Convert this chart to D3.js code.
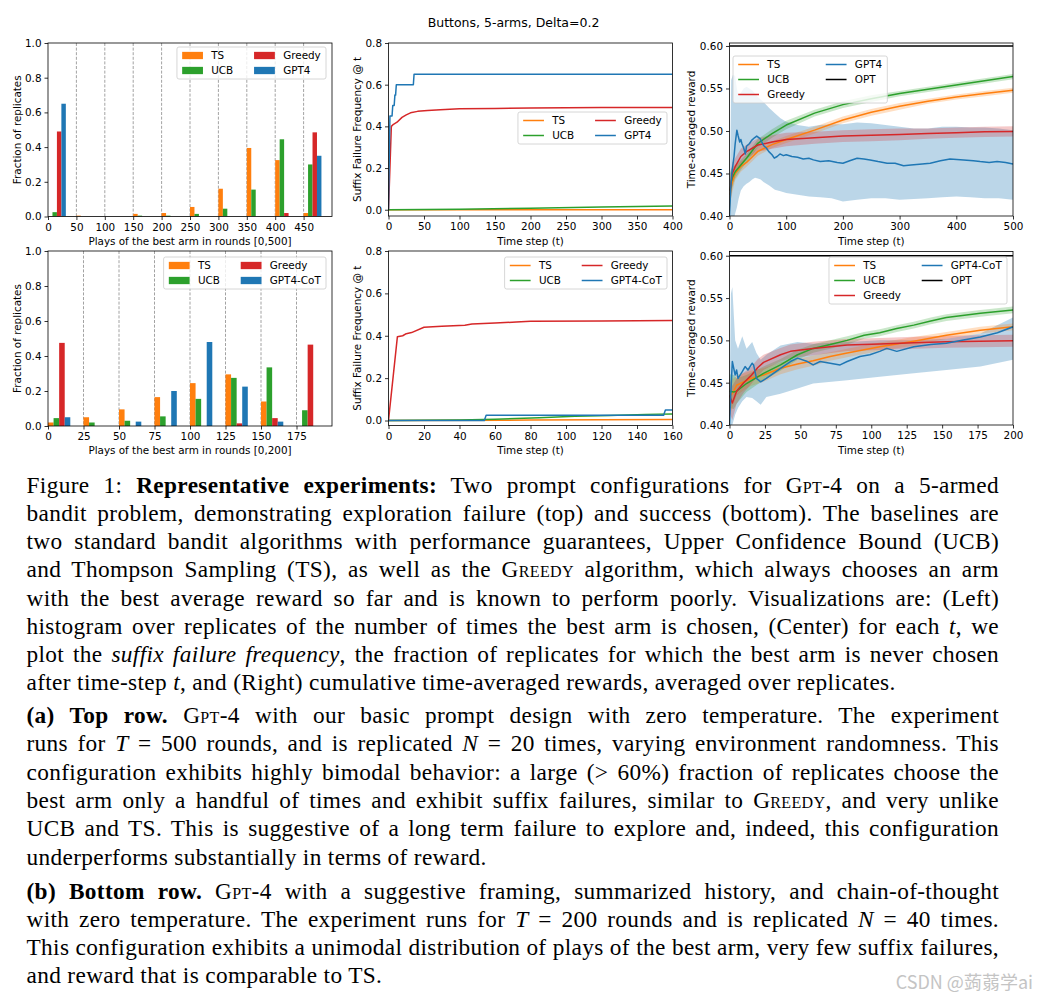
<!DOCTYPE html>
<html>
<head>
<meta charset="utf-8">
<script src="https://cdn.jsdelivr.net/npm/d3@7"></script>
<style>
  body { margin: 0; background: #fff; }
  svg text { font-family: "DejaVu Sans"; }
</style>
</head>
<body>
<svg id="fig" width="1037" height="1002"></svg>
<script>
// ---- data ----
const titleText = 'Buttons, 5-arms, Delta=0.2';

// left column: histograms of plays of the best arm
const histTopBins = [0, 50, 100, 150, 200, 250, 300, 350, 400, 450];
const histTopTS = [0, 0.005, 0, 0.015, 0.02, 0.055, 0.16, 0.395, 0.325, 0.02];
const histTopUCB = [0.025, 0, 0, 0.005, 0.005, 0.015, 0.045, 0.155, 0.445, 0.3];
const histTopGreedy = [0.49, 0, 0, 0, 0, 0, 0, 0, 0.02, 0.485];
const histTopGPT4 = [0.65, 0, 0, 0, 0, 0, 0, 0, 0, 0.35];

const histBotBins = [0, 25, 50, 75, 100, 125, 150, 175];
const histBotTS = [0.02, 0.05, 0.095, 0.165, 0.245, 0.295, 0.14, 0];
const histBotUCB = [0.045, 0.02, 0.03, 0.055, 0.155, 0.275, 0.335, 0.09];
const histBotGreedy = [0.475, 0, 0, 0, 0, 0.015, 0.045, 0.465];
const histBotCoT = [0.05, 0, 0.025, 0.2, 0.48, 0.225, 0.025, 0];

// middle column: suffix failure frequency
const sfTopTS_t = [0, 400], sfTopTS = [0, 0];
const sfTopUCB_t = [0, 100, 200, 300, 400], sfTopUCB = [0, 0.002, 0.007, 0.013, 0.018];
const sfTopGreedy_t = [0, 4, 7, 12, 19, 25, 31, 41, 55, 73, 100, 150, 200, 300, 400];
const sfTopGreedy = [0, 0.4, 0.41, 0.42, 0.443, 0.455, 0.465, 0.472, 0.476, 0.48, 0.484, 0.486, 0.488, 0.49, 0.491];
const sfTopGPT4_t = [0, 2, 5, 6, 8, 9, 10, 11, 35, 36, 400];
const sfTopGPT4 = [0, 0.45, 0.45, 0.5, 0.5, 0.55, 0.55, 0.6, 0.6, 0.65, 0.65];

const sfBotTS_t = [0, 80, 160], sfBotTS = [0, 0.002, 0.005];
const sfBotUCB_t = [0, 40, 60, 85, 105, 125, 145, 160];
const sfBotUCB = [0, 0.002, 0.006, 0.013, 0.02, 0.024, 0.029, 0.031];
const sfBotGreedy_t = [0, 5, 8, 10, 13, 20, 30, 43, 47, 60, 72, 80, 120, 160];
const sfBotGreedy = [0, 0.395, 0.4, 0.41, 0.415, 0.44, 0.445, 0.45, 0.455, 0.46, 0.465, 0.468, 0.47, 0.472];
const sfBotCoT_t = [0, 54, 55, 155, 156, 160];
const sfBotCoT = [0, 0, 0.025, 0.025, 0.05, 0.05];

// right column: time-averaged reward
const rwTop_t = [1, 3, 5, 10, 20, 30, 50, 75, 100, 150, 200, 250, 300, 350, 400, 450, 500];
const rwTopTS = [0.425, 0.435, 0.44, 0.45, 0.458, 0.463, 0.476, 0.484, 0.49, 0.501, 0.513, 0.522, 0.529, 0.535, 0.54, 0.544, 0.548];
const rwTopTSsd = [0.02, 0.015, 0.012, 0.008, 0.006, 0.005, 0.005, 0.004, 0.004, 0.004, 0.004, 0.004, 0.004, 0.003, 0.003, 0.003, 0.003];
const rwTopUCB = [0.43, 0.44, 0.445, 0.452, 0.46, 0.468, 0.4855, 0.497, 0.507, 0.521, 0.531, 0.538, 0.544, 0.549, 0.554, 0.559, 0.564];
const rwTopUCBsd = [0.02, 0.015, 0.012, 0.008, 0.006, 0.005, 0.005, 0.005, 0.005, 0.004, 0.004, 0.004, 0.003, 0.003, 0.003, 0.003, 0.003];
const rwTopGreedy = [0.43, 0.44, 0.45, 0.458, 0.47, 0.4757, 0.4835, 0.487, 0.49, 0.492, 0.494, 0.495, 0.496, 0.497, 0.498, 0.499, 0.4995];
const rwTopGreedySd = [0.02, 0.016, 0.013, 0.01, 0.009, 0.008, 0.008, 0.008, 0.008, 0.007, 0.007, 0.007, 0.007, 0.006, 0.006, 0.006, 0.006];
const rwTopGPT4_t = [0, 2, 4, 6, 8, 10, 13, 15, 18, 20, 22, 25, 28, 30, 35, 39, 44, 48, 54, 60, 65, 69, 75, 79, 84, 89, 95, 100, 110, 120, 130, 140, 148, 160, 175, 190, 200, 212, 225, 237, 248, 262, 278, 292, 307, 320, 335, 354, 372, 389, 413, 430, 442, 458, 472, 487, 500];
const rwTopGPT4 = [0.40, 0.43, 0.45, 0.46, 0.47, 0.485, 0.501, 0.495, 0.487, 0.49, 0.485, 0.48, 0.473, 0.482, 0.485, 0.489, 0.492, 0.494, 0.491, 0.483, 0.48, 0.476, 0.472, 0.468, 0.47, 0.473, 0.471, 0.472, 0.47, 0.469, 0.467, 0.468, 0.466, 0.464, 0.465, 0.463, 0.462, 0.465, 0.468, 0.467, 0.466, 0.464, 0.462, 0.462, 0.459, 0.46, 0.461, 0.462, 0.465, 0.467, 0.466, 0.465, 0.464, 0.463, 0.464, 0.463, 0.461];
const rwTopBand_t = [1, 3, 6, 10, 13, 16, 20, 25, 30, 35, 40, 45, 50, 55, 60, 70, 80, 90, 100, 120, 140, 160, 180, 200, 225, 250, 275, 300, 325, 350, 375, 400, 425, 450, 475, 500];
const rwTopBandHi = [0.45, 0.56, 0.566, 0.565, 0.55, 0.54, 0.545, 0.55, 0.552, 0.55, 0.548, 0.544, 0.54, 0.537, 0.534, 0.527, 0.521, 0.515, 0.511, 0.507, 0.505, 0.507, 0.508, 0.508, 0.51, 0.509, 0.507, 0.505, 0.503, 0.503, 0.505, 0.505, 0.504, 0.504, 0.503, 0.501];
const rwTopBandLo = [0.35, 0.38, 0.39, 0.403, 0.41, 0.42, 0.43, 0.435, 0.438, 0.44, 0.443, 0.445, 0.444, 0.443, 0.44, 0.436, 0.431, 0.429, 0.427, 0.425, 0.423, 0.422, 0.421, 0.417, 0.419, 0.421, 0.421, 0.419, 0.42, 0.421, 0.422, 0.423, 0.422, 0.421, 0.421, 0.419];

const rwBotTS_t = [1, 3, 5, 10, 15, 24, 36, 48, 59, 71, 83, 106, 130, 153, 177, 200];
const rwBotTS = [0.435, 0.44, 0.447, 0.451, 0.455, 0.459, 0.467, 0.472, 0.476, 0.481, 0.485, 0.4925, 0.499, 0.506, 0.512, 0.516];
const rwBotTSsd = [0.02, 0.015, 0.012, 0.01, 0.009, 0.008, 0.007, 0.006, 0.006, 0.005, 0.005, 0.005, 0.005, 0.004, 0.004, 0.004];
const rwBotUCB_t = [0, 3, 5, 12, 24, 36, 48, 59, 71, 83, 95, 106, 118, 130, 142, 153, 177, 200];
const rwBotUCB = [0.44, 0.439, 0.44, 0.449, 0.461, 0.471, 0.483, 0.4905, 0.495, 0.5, 0.506, 0.509, 0.514, 0.518, 0.523, 0.527, 0.532, 0.536];
const rwBotUCBsd = [0.02, 0.02, 0.015, 0.01, 0.008, 0.007, 0.006, 0.005, 0.005, 0.005, 0.004, 0.004, 0.004, 0.004, 0.004, 0.004, 0.004, 0.004];
const rwBotGreedy_t = [0, 2, 5, 10, 15, 20, 24, 36, 43, 59, 83, 106, 130, 153, 200];
const rwBotGreedy = [0.435, 0.426, 0.44, 0.45, 0.458, 0.468, 0.474, 0.483, 0.487, 0.4905, 0.4945, 0.4957, 0.4972, 0.4984, 0.4996];
const rwBotGreedySd = [0.02, 0.02, 0.015, 0.012, 0.01, 0.01, 0.009, 0.008, 0.008, 0.008, 0.007, 0.007, 0.007, 0.007, 0.007];
const rwBotCoT_t = [0, 1, 2, 4, 5, 6, 9, 11, 13, 16, 17, 19, 22, 26, 31, 36, 43, 48, 55, 59, 64, 71, 78, 83, 92, 99, 106, 111, 118, 130, 142, 153, 165, 177, 189, 200];
const rwBotCoT = [0.40, 0.44, 0.475, 0.459, 0.465, 0.455, 0.463, 0.469, 0.465, 0.473, 0.471, 0.455, 0.451, 0.455, 0.461, 0.467, 0.475, 0.479, 0.475, 0.471, 0.475, 0.473, 0.471, 0.475, 0.481, 0.483, 0.487, 0.4905, 0.487, 0.4925, 0.495, 0.4965, 0.5004, 0.504, 0.509, 0.516];
const rwBotBand_t = [0, 1, 2, 4, 6, 9, 12, 16, 19, 22, 26, 36, 48, 59, 83, 106, 130, 153, 177, 200];
const rwBotBandHi = [0.42, 0.555, 0.563, 0.5, 0.49, 0.505, 0.49, 0.498, 0.485, 0.477, 0.483, 0.494, 0.498, 0.496, 0.498, 0.5, 0.5, 0.502, 0.508, 0.527];
const rwBotBandLo = [0.38, 0.39, 0.40, 0.412, 0.42, 0.428, 0.433, 0.432, 0.428, 0.424, 0.433, 0.437, 0.443, 0.449, 0.453, 0.457, 0.461, 0.465, 0.469, 0.477];
const optValue = 0.6;

// ticks
const histYTicks = [0, 0.2, 0.4, 0.6, 0.8, 1.0];
const histTopXTicks = [0, 50, 100, 150, 200, 250, 300, 350, 400, 450];
const histBotXTicks = [0, 25, 50, 75, 100, 125, 150, 175];
const sfYTicks = [0, 0.2, 0.4, 0.6, 0.8];
const sfTopXTicks = [0, 50, 100, 150, 200, 250, 300, 350, 400];
const sfBotXTicks = [0, 20, 40, 60, 80, 100, 120, 140, 160];
const rwYTicks = [0.40, 0.45, 0.50, 0.55, 0.60];
const rwTopXTicks = [0, 100, 200, 300, 400, 500];
const rwBotXTicks = [0, 25, 50, 75, 100, 125, 150, 175, 200];

const C = { TS: '#ff7f0e', UCB: '#2ca02c', Greedy: '#d62728', GPT: '#1f77b4', OPT: '#000000' };
const FONT = 'DejaVu Sans', FS = 10.4;

const svg = d3.select('#fig');
let clipN = 0;

function makePanel(b, xd, yd) {
  const x = d3.scaleLinear().domain(xd).range([b.x0, b.x1]);
  const y = d3.scaleLinear().domain(yd).range([b.y1, b.y0]);
  const id = 'clip' + (clipN++);
  svg.append('clipPath').attr('id', id).append('rect')
    .attr('x', b.x0).attr('y', b.y0).attr('width', b.x1 - b.x0).attr('height', b.y1 - b.y0);
  const g = svg.append('g');
  const plot = g.append('g').attr('clip-path', `url(#${id})`);
  return { g, plot, x, y, b };
}

function finish(p, xt, yt, xf, yf, xlab, ylab, ylabX, xlabY) {
  const ax = p.g.append('g').attr('transform', `translate(0,${p.b.y1})`)
    .call(d3.axisBottom(p.x).tickValues(xt).tickFormat(xf).tickSize(3.5).tickPadding(3.5));
  const ay = p.g.append('g').attr('transform', `translate(${p.b.x0},0)`)
    .call(d3.axisLeft(p.y).tickValues(yt).tickFormat(yf).tickSize(3.5).tickPadding(3));
  [ax, ay].forEach(a => {
    a.select('.domain').remove();
    a.attr('font-family', FONT).attr('font-size', FS);
    a.selectAll('line').attr('stroke-width', 0.8);
    a.selectAll('text').attr('fill', '#000');
  });
  p.g.append('rect').attr('x', p.b.x0).attr('y', p.b.y0)
    .attr('width', p.b.x1 - p.b.x0).attr('height', p.b.y1 - p.b.y0)
    .attr('fill', 'none').attr('stroke', '#000').attr('stroke-width', 0.8);
  p.g.append('text').attr('x', (p.b.x0 + p.b.x1) / 2).attr('y', xlabY)
    .attr('text-anchor', 'middle').attr('font-size', FS).text(xlab);
  const yc = (p.b.y0 + p.b.y1) / 2;
  p.g.append('text').attr('transform', `translate(${ylabX},${yc}) rotate(-90)`)
    .attr('text-anchor', 'middle').attr('dy', '0.35em').attr('font-size', FS).text(ylab);
}

function legend(p, opt) {
  const pad = 5.2, hl = 20.8, tp = 8.3, cs = 20.8, top = 8.5, rs = 15;
  const lg = p.g.append('g');
  const box = lg.append('rect');
  const inner = lg.append('g');
  let cx = pad, rows = 0;
  opt.cols.forEach(col => {
    let w = 0;
    rows = Math.max(rows, col.length);
    col.forEach((it, ri) => {
      const cy = top + ri * rs;
      if (it[2] === 'patch') {
        inner.append('rect').attr('x', cx).attr('y', cy - 3.65).attr('width', hl).attr('height', 7.3).attr('fill', it[1]);
      } else {
        inner.append('line').attr('x1', cx).attr('x2', cx + hl).attr('y1', cy).attr('y2', cy)
          .attr('stroke', it[1]).attr('stroke-width', 1.5);
      }
      const t = inner.append('text').attr('x', cx + hl + tp).attr('y', cy).attr('dy', '0.35em')
        .attr('font-size', FS).text(it[0]);
      w = Math.max(w, t.node().getComputedTextLength());
    });
    cx += hl + tp + w + cs;
  });
  const bw = cx - cs + pad, bh = 2 * top + (rows - 1) * rs;
  box.attr('width', bw).attr('height', bh).attr('rx', 2)
    .attr('fill', '#fff').attr('fill-opacity', 0.8).attr('stroke', '#cccccc').attr('stroke-width', 0.8);
  const lx = opt.align === 'right' ? opt.x - bw : opt.x;
  lg.attr('transform', `translate(${lx},${opt.y})`);
}

function hist(p, bins, series, binW) {
  const bw = binW * 0.157;
  // dashed grid at the x ticks
  bins.slice(1).forEach(v => {
    p.plot.append('line').attr('x1', p.x(v)).attr('x2', p.x(v)).attr('y1', p.b.y0).attr('y2', p.b.y1)
      .attr('stroke', '#8c8c8c').attr('stroke-width', 0.8).attr('stroke-dasharray', '3,1.6');
  });
  series.forEach((s, i) => {
    p.plot.selectAll(null).data(d3.zip(bins, s.values)).enter().append('rect')
      .attr('x', d => p.x(d[0] + i * bw))
      .attr('width', p.x(bw) - p.x(0))
      .attr('y', d => p.y(d[1]))
      .attr('height', d => p.y(0) - p.y(d[1]))
      .attr('fill', s.color);
  });
}

function drawLine(p, ts, vs, color, w) {
  const line = d3.line().x(d => p.x(d[0])).y(d => p.y(d[1]));
  p.plot.append('path').datum(d3.zip(ts, vs)).attr('d', line)
    .attr('fill', 'none').attr('stroke', color).attr('stroke-width', w || 1.5).attr('stroke-linejoin', 'round');
}

function drawBand(p, ts, lo, hi, color, op) {
  const area = d3.area().x(d => p.x(d[0])).y0(d => p.y(d[1])).y1(d => p.y(d[2]));
  p.plot.append('path').datum(d3.zip(ts, lo, hi)).attr('d', area)
    .attr('fill', color).attr('fill-opacity', op);
}

function sdBand(p, ts, vs, sd, color) {
  drawBand(p, ts, vs.map((v, i) => v - sd[i]), vs.map((v, i) => v + sd[i]), color, 0.25);
}

const f1 = d3.format('.1f'), f2 = d3.format('.2f'), fi = d3.format('d');

// title
svg.append('text').attr('x', 513.5).attr('y', 26.5).attr('text-anchor', 'middle')
  .attr('font-size', 12.5).text(titleText);

// ---- top left ----
let p = makePanel({ x0: 48, x1: 332, y0: 43, y1: 216.5 }, [0, 500], [0, 1]);
hist(p, histTopBins, [
  { values: histTopTS, color: C.TS }, { values: histTopUCB, color: C.UCB },
  { values: histTopGreedy, color: C.Greedy }, { values: histTopGPT4, color: C.GPT }], 50);
finish(p, histTopXTicks, histYTicks, fi, f1, 'Plays of the best arm in rounds [0,500]', 'Fraction of replicates', 17, 244.5);
legend(p, { x: 326, y: 47, align: 'right', cols: [
  [['TS', C.TS, 'patch'], ['UCB', C.UCB, 'patch']], [['Greedy', C.Greedy, 'patch'], ['GPT4', C.GPT, 'patch']]] });

// ---- bottom left ----
p = makePanel({ x0: 48, x1: 332, y0: 251, y1: 426 }, [0, 200], [0, 1]);
hist(p, histBotBins, [
  { values: histBotTS, color: C.TS }, { values: histBotUCB, color: C.UCB },
  { values: histBotGreedy, color: C.Greedy }, { values: histBotCoT, color: C.GPT }], 25);
finish(p, histBotXTicks, histYTicks, fi, f1, 'Plays of the best arm in rounds [0,200]', 'Fraction of replicates', 17, 453.5);
legend(p, { x: 326, y: 257, align: 'right', cols: [
  [['TS', C.TS, 'patch'], ['UCB', C.UCB, 'patch']], [['Greedy', C.Greedy, 'patch'], ['GPT4-CoT', C.GPT, 'patch']]] });

// ---- top middle ----
p = makePanel({ x0: 388.5, x1: 672.5, y0: 43, y1: 216 }, [0, 400], [-0.03, 0.8]);
drawLine(p, sfTopTS_t, sfTopTS, C.TS);
drawLine(p, sfTopUCB_t, sfTopUCB, C.UCB);
drawLine(p, sfTopGreedy_t, sfTopGreedy, C.Greedy);
drawLine(p, sfTopGPT4_t, sfTopGPT4, C.GPT);
finish(p, sfTopXTicks, sfYTicks, fi, f1, 'Time step (t)', 'Suffix Failure Frequency @ t', 357, 244.5);
legend(p, { x: 667, y: 112, align: 'right', cols: [
  [['TS', C.TS], ['UCB', C.UCB]], [['Greedy', C.Greedy], ['GPT4', C.GPT]]] });

// ---- bottom middle ----
p = makePanel({ x0: 388.5, x1: 672.5, y0: 251, y1: 425.5 }, [0, 160], [-0.0235, 0.8]);
drawLine(p, sfBotTS_t, sfBotTS, C.TS);
drawLine(p, sfBotUCB_t, sfBotUCB, C.UCB);
drawLine(p, sfBotGreedy_t, sfBotGreedy, C.Greedy);
drawLine(p, sfBotCoT_t, sfBotCoT, C.GPT);
finish(p, sfBotXTicks, sfYTicks, fi, f1, 'Time step (t)', 'Suffix Failure Frequency @ t', 357, 453.5);
legend(p, { x: 667, y: 257, align: 'right', cols: [
  [['TS', C.TS], ['UCB', C.UCB]], [['Greedy', C.Greedy], ['GPT4-CoT', C.GPT]]] });

// ---- top right ----
p = makePanel({ x0: 729.5, x1: 1013, y0: 43, y1: 216 }, [0, 500], [0.4, 0.6035]);
drawBand(p, rwTopBand_t, rwTopBandLo, rwTopBandHi, C.GPT, 0.3);
sdBand(p, rwTop_t, rwTopTS, rwTopTSsd, C.TS);
sdBand(p, rwTop_t, rwTopUCB, rwTopUCBsd, C.UCB);
sdBand(p, rwTop_t, rwTopGreedy, rwTopGreedySd, C.Greedy);
drawLine(p, rwTop_t, rwTopTS, C.TS);
drawLine(p, rwTop_t, rwTopUCB, C.UCB);
drawLine(p, rwTop_t, rwTopGreedy, C.Greedy);
drawLine(p, rwTopGPT4_t, rwTopGPT4, C.GPT);
drawLine(p, [0, 500], [optValue, optValue], C.OPT);
finish(p, rwTopXTicks, rwYTicks, fi, f2, 'Time step (t)', 'Time-averaged reward', 691, 244.5);
legend(p, { x: 733, y: 56, align: 'left', cols: [
  [['TS', C.TS], ['UCB', C.UCB], ['Greedy', C.Greedy]], [['GPT4', C.GPT], ['OPT', C.OPT]]] });

// ---- bottom right ----
p = makePanel({ x0: 729.5, x1: 1013, y0: 251.5, y1: 425 }, [0, 200], [0.4, 0.605]);
drawBand(p, rwBotBand_t, rwBotBandLo, rwBotBandHi, C.GPT, 0.3);
sdBand(p, rwBotTS_t, rwBotTS, rwBotTSsd, C.TS);
sdBand(p, rwBotUCB_t, rwBotUCB, rwBotUCBsd, C.UCB);
sdBand(p, rwBotGreedy_t, rwBotGreedy, rwBotGreedySd, C.Greedy);
drawLine(p, rwBotTS_t, rwBotTS, C.TS);
drawLine(p, rwBotUCB_t, rwBotUCB, C.UCB);
drawLine(p, rwBotGreedy_t, rwBotGreedy, C.Greedy);
drawLine(p, rwBotCoT_t, rwBotCoT, C.GPT);
drawLine(p, [0, 200], [optValue, optValue], C.OPT);
finish(p, rwBotXTicks, rwYTicks, fi, f2, 'Time step (t)', 'Time-averaged reward', 691, 453.5);
legend(p, { x: 1007, y: 257, align: 'right', cols: [
  [['TS', C.TS], ['UCB', C.UCB], ['Greedy', C.Greedy]], [['GPT4-CoT', C.GPT], ['OPT', C.OPT]]] });

// ---- caption ----
const capX = 26.5, capW = 972.5, capLS = 0.35;
const capPara1 = [
  [['n', 'Figure 1: '], ['b', 'Representative experiments:'], ['n', ' Two prompt configurations for '], ['s', 'Gpt'], ['n', '-4 on a 5-armed']],
  [['n', 'bandit problem, demonstrating exploration failure (top) and success (bottom). The baselines are']],
  [['n', 'two standard bandit algorithms with performance guarantees, Upper Confidence Bound (UCB)']],
  [['n', 'and Thompson Sampling (TS), as well as the '], ['s', 'Greedy'], ['n', ' algorithm, which always chooses an arm']],
  [['n', 'with the best average reward so far and is known to perform poorly. Visualizations are: (Left)']],
  [['n', 'histogram over replicates of the number of times the best arm is chosen, (Center) for each '], ['i', 't'], ['n', ', we']],
  [['n', 'plot the '], ['i', 'suffix failure frequency'], ['n', ', the fraction of replicates for which the best arm is never chosen']],
  [['n', 'after time-step '], ['i', 't'], ['n', ', and (Right) cumulative time-averaged rewards, averaged over replicates.']]
];
const capPara2 = [
  [['b', '(a) Top row.'], ['n', ' '], ['s', 'Gpt'], ['n', '-4 with our basic prompt design with zero temperature. The experiment']],
  [['n', 'runs for '], ['i', 'T'], ['n', ' = 500 rounds, and is replicated '], ['i', 'N'], ['n', ' = 20 times, varying environment randomness. This']],
  [['n', 'configuration exhibits highly bimodal behavior: a large (> 60%) fraction of replicates choose the']],
  [['n', 'best arm only a handful of times and exhibit suffix failures, similar to '], ['s', 'Greedy'], ['n', ', and very unlike']],
  [['n', 'UCB and TS. This is suggestive of a long term failure to explore and, indeed, this configuration']],
  [['n', 'underperforms substantially in terms of reward.']]
];
const capPara3 = [
  [['b', '(b) Bottom row.'], ['n', ' '], ['s', 'Gpt'], ['n', '-4 with a suggestive framing, summarized history, and chain-of-thought']],
  [['n', 'with zero temperature. The experiment runs for '], ['i', 'T'], ['n', ' = 200 rounds and is replicated '], ['i', 'N'], ['n', ' = 40 times.']],
  [['n', 'This configuration exhibits a unimodal distribution of plays of the best arm, very few suffix failures,']],
  [['n', 'and reward that is comparable to TS.']]
];

const cap = svg.append('g');
function para(lines, y0, dy) {
  lines.forEach((segs, i) => {
    const t = cap.append('text').attr('x', capX).attr('y', y0 + i * dy)
      .style('font-family', '"Liberation Serif", serif').style('font-size', '23.3px')
      .style('white-space', 'pre').attr('letter-spacing', capLS);
    segs.forEach(([s, txt]) => {
      const ts = t.append('tspan').text(txt);
      if (s === 'b') ts.attr('font-weight', 'bold');
      if (s === 'i') ts.attr('font-style', 'italic');
      if (s === 's') ts.style('font-variant', 'small-caps');
    });
    if (i < lines.length - 1) {
      const full = segs.map(d => d[1]).join('');
      const n = full.split(' ').length - 1;
      const len = t.node().getComputedTextLength();
      let ws = (capW - len) / n;
      if (ws < -1.5) {
        // squeeze letters a little instead of collapsing the spaces
        const ls = capLS + (capW - len + 1.5 * n) / full.length;
        t.attr('letter-spacing', ls);
        ws = -1.5;
      }
      t.attr('word-spacing', ws);
    }
  });
}
para(capPara1, 492.7, 28.2);
para(capPara2, 723, 28.3);
para(capPara3, 899, 28);

// watermark
svg.append('text').attr('x', 1033).attr('y', 989).attr('text-anchor', 'end')
  .style('font-family', '"Noto Sans CJK SC", "Noto Sans", sans-serif').attr('font-size', 18)
  .attr('fill', '#c4c4c4').text('CSDN @蒟蒻学ai');
</script>
</body>
</html>
